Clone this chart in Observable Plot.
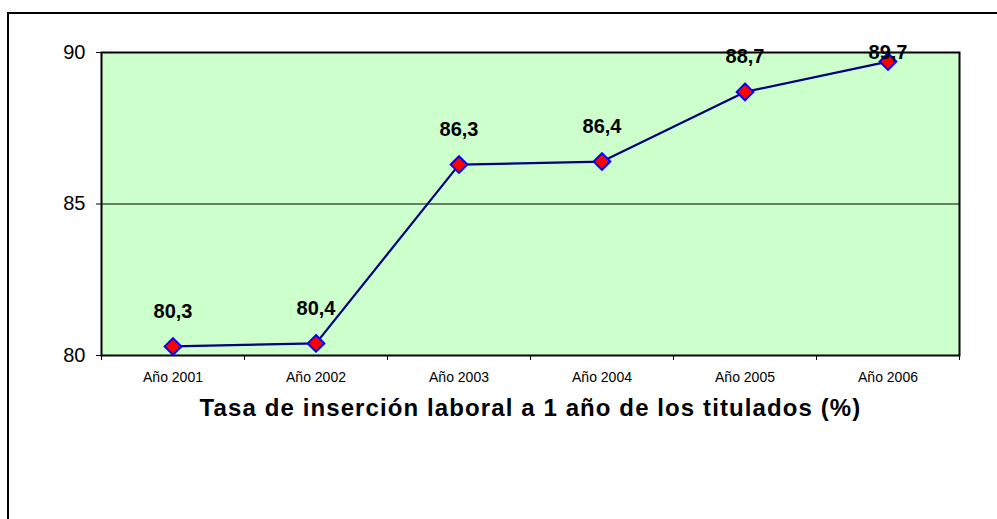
<!DOCTYPE html>
<html>
<head>
<meta charset="utf-8">
<script src="https://cdn.jsdelivr.net/npm/d3@7"></script>
<script src="https://cdn.jsdelivr.net/npm/@observablehq/plot@0.6"></script>
<style>
  html, body { margin: 0; padding: 0; background: #fff; overflow: hidden; }
  #wrap { position: relative; width: 997px; height: 519px; }
  #border { position: absolute; left: 7px; top: 12px; width: 1100px; height: 600px;
            border-left: 2px solid #000; border-top: 2px solid #000; pointer-events: none; }
  svg { font-family: "Liberation Sans", Arial, sans-serif; }
</style>
</head>
<body>
<div id="wrap"><div id="border"></div></div>
<script>
const categories = ["Año 2001", "Año 2002", "Año 2003", "Año 2004", "Año 2005", "Año 2006"];
const values = [80.3, 80.4, 86.3, 86.4, 88.7, 89.7];
const yTicks = [80, 85, 90];
const title = "Tasa de inserción laboral a 1 año de los titulados (%)";

const data = categories.map((c, i) => ({c, i, pos: i + 0.5, v: values[i], label: values[i].toFixed(1).replace(".", ",")}));
const n = categories.length;

const chart = Plot.plot({
  width: 997,
  height: 519,
  marginLeft: 101,
  marginRight: 38,
  marginTop: 52,
  marginBottom: 164,
  style: {fontFamily: '"Liberation Sans", Arial, sans-serif', color: "#000", background: "transparent"},
  x: {type: "linear", domain: [0, n]},
  y: {domain: [yTicks[0], yTicks[yTicks.length - 1]]},
  marks: [
    Plot.frame({fill: "#ccffcc", stroke: null}),
    Plot.ruleY([yTicks[1]], {stroke: "#000", strokeWidth: 1}),
    Plot.frame({stroke: "#000", strokeWidth: 2}),
    Plot.axisY(yTicks, {tickSize: 5, tickPadding: 11, fontSize: 20, label: null}),
    Plot.axisX(d3.range(n + 1), {tickSize: 5, tickFormat: () => "", label: null}),
    Plot.axisX(data.map(d => d.pos), {tickSize: 0, tickPadding: 17, fontSize: 14, label: null,
      tickFormat: t => categories[Math.floor(t)]}),
    Plot.line(data, {x: "pos", y: "v", stroke: "#000080", strokeWidth: 2.2}),
    Plot.dot(data, {x: "pos", y: "v", symbol: "diamond2", r: 7.5, fill: "#ff0000", stroke: "#0000ff", strokeWidth: 2}),
    Plot.text(data.filter((d, i) => i < n - 1), {x: "pos", y: "v", text: "label", dy: -35, fontSize: 20, fontWeight: "bold", fill: "#000"}),
    Plot.text(data.filter((d, i) => i === n - 1), {x: "pos", y: "v", text: "label", dy: -9, fontSize: 20, fontWeight: "bold", fill: "#000"}),
    Plot.text([title], {frameAnchor: "bottom", dy: 60, fontSize: 24, fontWeight: "bold", fill: "#000"})
  ]
});
d3.select(chart).selectAll("text").filter(function() { return this.textContent === title; })
  .style("letter-spacing", "1.1px");
document.getElementById("wrap").insertBefore(chart, document.getElementById("border"));
</script>
</body>
</html>
